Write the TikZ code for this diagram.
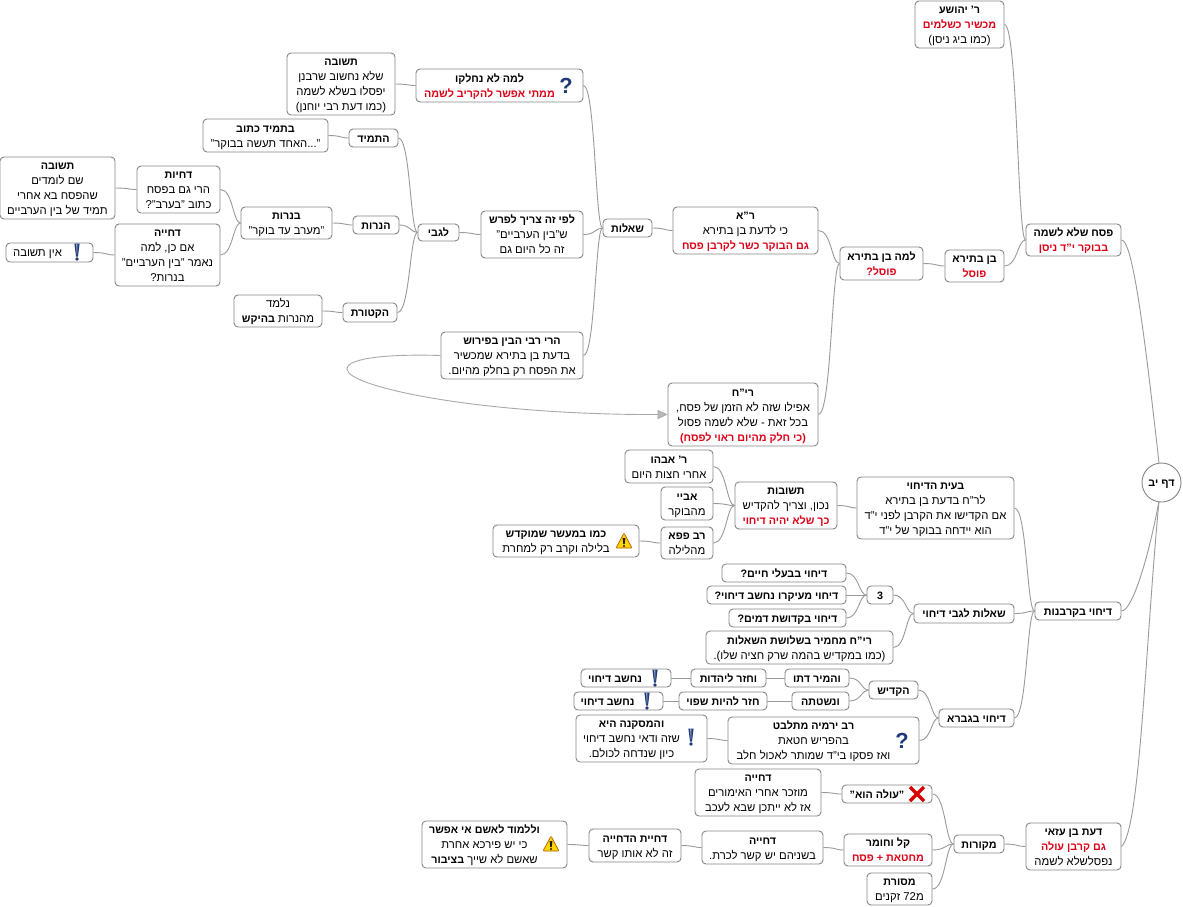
\documentclass[tikz,border=0pt]{standalone}
\usepackage{fontspec}
\setmainfont[Script=Hebrew,BoldFeatures={Scale=0.95}]{Liberation Sans}
\TeXXeTstate=1
\usetikzlibrary{calc,arrows.meta}
\definecolor{linkc}{HTML}{9A9A9A}
\definecolor{boxc}{HTML}{868686}
\definecolor{redt}{HTML}{DD0016}
\definecolor{navy}{HTML}{1E3A78}
\newcommand\Tn[1]{\beginR #1\endR}
\newcommand\Tb[1]{\beginR\textbf{#1}\endR}
\newcommand\Tr[1]{\textcolor{redt}{\beginR\textbf{#1}\endR}}
\newcommand\bx[7][0]{%
  \pgfmathsetmacro\bxw{#5-#3}\pgfmathsetmacro\bxh{#6-#4}%
  \pgfmathsetmacro\bxx{(#3+#5)/2}\pgfmathsetmacro\bxy{(#4+#6)/2}%
  \node[boxn,minimum width=\bxw pt,minimum height=\bxh pt] (#2) at (\bxx,\bxy)
    {\raisebox{-4pt}[0pt][0pt]{\begin{tabular}{@{}c@{}}#7\end{tabular}}\kern#1pt\kern#1pt};}
\newcommand\lk[2]{%
  \draw[linkl] let \p1=(#2.east),\p2=(#1.west),\n1={\x2-\x1} in
    (\p1) .. controls ({\x1+0.62*\n1},\y1) and ({\x1+0.62*\n1},\y2) .. (\p2);}
\newcommand\iconE[2]{\begin{scope}[shift={(#1,#2)}]
  \fill[navy] (-2.6,-8.5) -- (2.6,-8.5) -- (1,4.5) -- (-1,4.5) -- cycle;
  \fill[navy!45] (-0.9,-8) -- (0.4,-8) -- (0.2,3) -- (-0.2,3) -- cycle;
  \fill[navy] (0,7) circle (1.8);
  \end{scope}}
\newcommand\iconW[2]{\begin{scope}[shift={(#1,#2)}]
  \fill[rounded corners=1pt,fill=yellow!75!orange,draw=orange!70!black,line width=.7pt] (0,-8) -- (8,7) -- (-8,7) -- cycle;
  \fill[black!80!brown] (-1.4,-3) -- (1.4,-3) -- (.7,3) -- (-.7,3) -- cycle;
  \fill[black!80!brown] (0,5) circle (1.1);
  \end{scope}}
\newcommand\iconQ[2]{\node[font=\fontsize{23}{23}\selectfont\bfseries,text=navy,inner sep=0pt] at (#1,#2) {?};}
\newcommand\iconX[2]{\begin{scope}[shift={(#1,#2)}]
  \draw[line width=3.4pt,color=red!85!black] (-7,-7) -- (7,7);
  \draw[line width=3.4pt,color=red!85!black] (7,-7) -- (-7,7);
  \end{scope}}
\tikzset{
  boxn/.style={draw=boxc,fill=white,line width=.9pt,rounded corners=4pt,inner sep=0pt,
    font=\fontsize{11.3}{15}\selectfont},
  linkl/.style={draw=linkc,line width=.9pt},
}
\begin{document}
\begin{tikzpicture}[x=1pt,y=-1pt]
\useasboundingbox (0,0) rectangle (1183,906);
\fill[white] (0,0) rectangle (1183,906);
% ---- nodes
\node[circle,draw=boxc,fill=white,line width=.9pt,minimum size=39pt,inner sep=0pt,font=\fontsize{11.3}{15}\selectfont] (daf) at (1161.5,482.5) {\raisebox{-4pt}[0pt][0pt]{\Tb{דף יב}}};
\bx{pesach}{1026}{224}{1121}{256}{\Tb{פסח שלא לשמה}\\\Tr{בבוקר י"ד ניסן}}
\bx{yehoshua}{915}{1}{1004}{48}{\Tb{ר' יהושע}\\\Tr{מכשיר כשלמים}\\\Tn{(כמו ביג ניסן)}}
\bx{bent}{945}{250}{1004}{282}{\Tb{בן בתירא}\\\Tr{פוסל}}
\bx{lama}{840}{247}{923}{280}{\Tb{למה בן בתירא}\\\Tr{פוסל?}}
\bx{ra}{673}{207}{818}{254}{\Tb{ר"א}\\\Tn{כי לדעת בן בתירא}\\\Tr{גם הבוקר כשר לקרבן פסח}}
\bx{rih}{668}{383}{818}{446}{\Tb{רי"ח}\\\Tn{אפילו שזה לא הזמן של פסח,}\\\Tn{בכל זאת - שלא לשמה פסול}\\\Tr{(כי חלק מהיום ראוי לפסח)}}
\bx{sheelot}{603}{219}{652}{237}{\Tb{שאלות}}
\bx[10]{lolo}{416}{69}{583}{102}{\Tb{למה לא נחלקו}\\\Tr{ממתי אפשר להקריב לשמה}}
\bx{tshu}{287}{53}{395}{115}{\Tb{תשובה}\\\Tn{שלא נחשוב שרבנן}\\\Tn{יפסלו בשלא לשמה}\\\Tn{(כמו דעת רבי יוחנן)}}
\bx{lefi}{481}{211}{583}{258}{\Tb{לפי זה צריך לפרש}\\\Tn{ש"בין הערביים"}\\\Tn{זה כל היום גם}}
\bx{harei}{441}{332}{583}{379}{\Tb{הרי רבי הבין בפירוש}\\\Tn{בדעת בן בתירא שמכשיר}\\\Tn{את הפסח רק בחלק מהיום.}}
\bx{legabei}{418}{224}{459}{241}{\Tb{לגבי}}
\bx{tamid}{349}{129}{398}{147}{\Tb{התמיד}}
\bx{tamidk}{203}{119}{328}{152}{\Tb{בתמיד כתוב}\\\Tn{"...האחד תעשה בבוקר"}}
\bx{nerot}{353}{216}{399}{234}{\Tb{הנרות}}
\bx{bnerot}{241}{207}{332}{239}{\Tb{בנרות}\\\Tn{"מערב עד בוקר"}}
\bx{ketoret}{343}{303}{397}{322}{\Tb{הקטורת}}
\bx{nilmad}{234}{295}{322}{327}{\Tn{נלמד}\\\Tn{מהנרות \textbf{בהיקש}}}
\bx{dhiot}{137}{166}{220}{213}{\Tb{דחיות}\\\Tn{הרי גם בפסח}\\\Tn{כתוב "בערב"?}}
\bx{dhiya}{115}{224}{220}{286}{\Tb{דחייה}\\\Tn{אם כן, למה}\\\Tn{נאמר "בין הערביים"}\\\Tn{בנרות?}}
\bx{tshub}{0}{157}{115}{219}{\Tb{תשובה}\\\Tn{שם לומדים}\\\Tn{שהפסח בא אחרי}\\\Tn{תמיד של בין הערביים}}
\bx[12]{eint}{6}{243}{93}{262}{\Tn{אין תשובה}}
\bx{kor}{1035}{602}{1121}{620}{\Tb{דיחוי בקרבנות}}
\bx{baayat}{857}{477}{1014}{539}{\Tb{בעית הדיחוי}\\\Tn{לר"ח בדעת בן בתירא}\\\Tn{אם הקדישו את הקרבן לפני י"ד}\\\Tn{הוא יידחה בבוקר של י"ד}}
\bx{tshuvot}{735}{482}{837}{529}{\Tb{תשובות}\\\Tn{נכון, וצריך להקדיש}\\\Tr{כך שלא יהיה דיחוי}}
\bx{abahu}{625}{450}{713}{483}{\Tb{ר' אבהו}\\\Tn{אחרי חצות היום}}
\bx{abaye}{661}{487}{713}{520}{\Tb{אביי}\\\Tn{מהבוקר}}
\bx{papa}{661}{527}{713}{559}{\Tb{רב פפא}\\\Tn{מהלילה}}
\bx[10]{maaser}{493}{525}{639}{557}{\Tb{כמו במעשר שמוקדש}\\\Tn{בלילה וקרב רק למחרת}}
\bx{shlagabei}{914}{604}{1014}{623}{\Tb{שאלות לגבי דיחוי}}
\bx{three}{867}{586}{893}{604}{\Tb{3}}
\bx{dba}{722}{564}{846}{582}{\Tb{דיחוי בבעלי חיים?}}
\bx{dme}{707}{586}{846}{604}{\Tb{דיחוי מעיקרו נחשב דיחוי?}}
\bx{dkd}{729}{609}{846}{627}{\Tb{דיחוי בקדושת דמים?}}
\bx{rihm}{706}{631}{893}{664}{\Tb{רי"ח מחמיר בשלושת השאלות}\\\Tn{(כמו במקדיש בהמה שרק חציה שלו).}}
\bx{gavra}{939}{709}{1014}{727}{\Tb{דיחוי בגברא}}
\bx{hikdish}{869}{681}{918}{699}{\Tb{הקדיש}}
\bx{hemir}{785}{669}{849}{687}{\Tb{והמיר דתו}}
\bx{hazar}{691}{669}{766}{687}{\Tb{וחזר ליהדות}}
\bx[11]{nehA}{581}{669}{671}{687}{\Tb{נחשב דיחוי}}
\bx{nisht}{792}{692}{849}{710}{\Tb{ונשטתה}}
\bx{shafui}{679}{692}{767}{710}{\Tb{חזר להיות שפוי}}
\bx[11]{nehB}{574}{692}{663}{710}{\Tb{נחשב דיחוי}}
\bx[10]{yirm}{728}{717}{919}{764}{\Tb{רב ירמיה מתלבט}\\\Tn{בהפריש חטאת}\\\Tn{ואז פסקו בי"ד שמותר לאכול חלב}}
\bx[10]{maskana}{576}{715}{707}{762}{\Tb{והמסקנה היא}\\\Tn{שזה ודאי נחשב דיחוי}\\\Tn{כיון שנדחה לכולם.}}
\bx{azai}{1026}{823}{1121}{870}{\Tb{דעת בן עזאי}\\\Tr{גם קרבן עולה}\\\Tn{נפסלשלא לשמה}}
\bx{mekorot}{954}{835}{1004}{853}{\Tb{מקורות}}
\bx[10]{olah}{842}{785}{932}{803}{\Tb{"עולה הוא"}}
\bx{dhA}{695}{769}{821}{816}{\Tb{דחייה}\\\Tn{מוזכר אחרי האימורים}\\\Tn{אז לא ייתכן שבא לעכב}}
\bx{kal}{844}{834}{932}{866}{\Tb{קל וחומר}\\\Tr{מחטאת + פסח}}
\bx{dhB}{702}{831}{823}{864}{\Tb{דחייה}\\\Tn{בשניהם יש קשר לכרת.}}
\bx{dhdh}{589}{829}{681}{862}{\Tb{דחיית הדחייה}\\\Tn{זה לא אותו קשר}}
\bx[10]{asham}{422}{821}{567}{868}{\Tb{וללמוד לאשם אי אפשר}\\\Tn{כי יש פירכא אחרת}\\\Tn{שאשם לא שייך \textbf{בציבור}}}
\bx{mesoret}{867}{873}{932}{905}{\Tb{מסורת}\\\Tn{מ\beginL 72\endL{} זקנים}}
% ---- icons
\iconQ{566}{86}
\iconQ{902}{741}
\iconE{77}{252}
\iconE{655}{678}
\iconE{647}{701}
\iconE{691}{737}
\iconW{624}{541}
\iconW{551}{844}
\iconX{917}{794}
% ---- connectors from the centre
\coordinate (dtop) at (1159,463);
\coordinate (dbot) at (1159,501);
\draw[linkl] (pesach.east) .. controls (1132,240) and (1143,320) .. (dtop);
\draw[linkl] (kor.east) .. controls (1132,611) and (1148,560) .. (dbot);
\draw[linkl] (azai.east) .. controls (1140,830) and (1145,650) .. (dbot);
% ---- connectors
\lk{pesach}{yehoshua}\lk{pesach}{bent}\lk{bent}{lama}\lk{lama}{ra}\lk{lama}{rih}
\lk{ra}{sheelot}\lk{sheelot}{lolo}\lk{sheelot}{lefi}\lk{sheelot}{harei}
\lk{lolo}{tshu}\lk{lefi}{legabei}\lk{legabei}{tamid}\lk{legabei}{nerot}\lk{legabei}{ketoret}
\lk{tamid}{tamidk}\lk{nerot}{bnerot}\lk{ketoret}{nilmad}\lk{bnerot}{dhiot}\lk{bnerot}{dhiya}
\lk{dhiot}{tshub}\lk{dhiya}{eint}
\lk{kor}{baayat}\lk{kor}{shlagabei}\lk{kor}{gavra}
\lk{baayat}{tshuvot}\lk{tshuvot}{abahu}\lk{tshuvot}{abaye}\lk{tshuvot}{papa}\lk{papa}{maaser}
\lk{shlagabei}{three}\lk{shlagabei}{rihm}\lk{three}{dba}\lk{three}{dme}\lk{three}{dkd}
\lk{gavra}{hikdish}\lk{gavra}{yirm}\lk{hikdish}{hemir}\lk{hikdish}{nisht}
\lk{hemir}{hazar}\lk{hazar}{nehA}\lk{nisht}{shafui}\lk{shafui}{nehB}\lk{yirm}{maskana}
\lk{azai}{mekorot}\lk{mekorot}{olah}\lk{mekorot}{kal}\lk{mekorot}{mesoret}
\lk{olah}{dhA}\lk{kal}{dhB}\lk{dhB}{dhdh}\lk{dhdh}{asham}
% ---- the looping arrow
\coordinate (loopl) at (347,369);
\draw[draw=linkc!85,line width=.9pt,-{Triangle[length=10pt,width=9pt,fill=linkc!70]}]
  (harei.west) .. controls (395,354) and (347,357) .. (loopl)
  .. controls (347,387) and (480,415) .. (rih.west);
\end{tikzpicture}
\end{document}
